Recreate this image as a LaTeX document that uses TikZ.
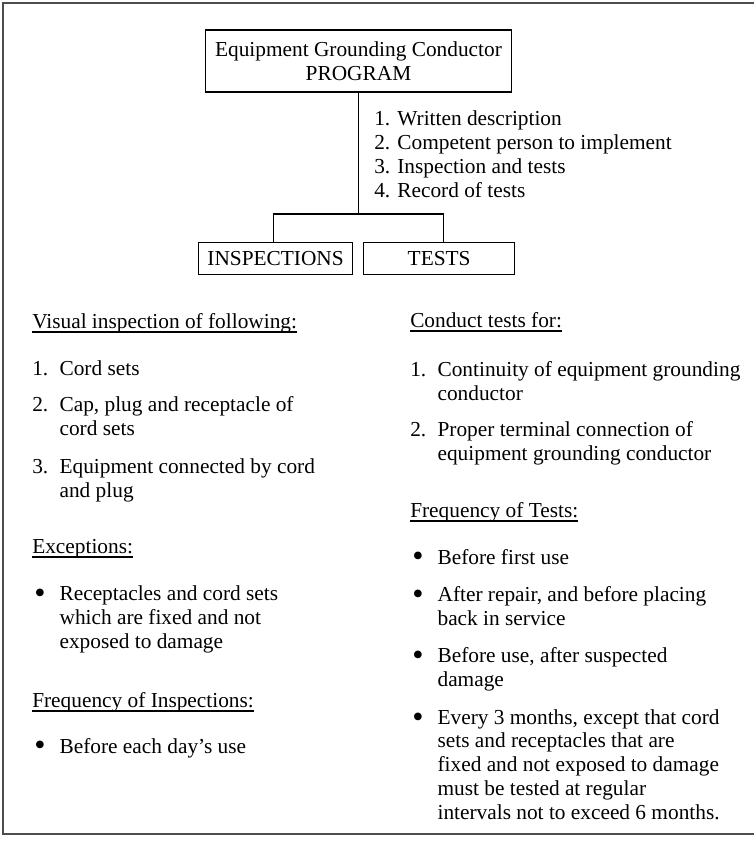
\documentclass[tikz,border=0pt]{standalone}
\usepackage{fontspec}
\setmainfont{Liberation Serif}
\usepackage{tikz}
\usepackage{xcolor}
\usetikzlibrary{positioning}

\definecolor{framegray}{HTML}{4D4D4D}
\tikzset{
  box/.style={draw, line width=0.9pt, align=center, inner sep=0pt},
  txt/.style={anchor=base west, inner sep=0pt, align=left},
  wire/.style={line width=0.8pt},
  uline/.style={line width=0.8pt},
  frame/.style={draw=framegray, line width=1.3pt}
}
\newcommand{\nlab}[1]{\makebox[20.5pt][l]{#1}}
\newcommand{\blab}{\makebox[20.5pt][l]{\hspace{1.5pt}\raisebox{-2.2pt}{\scalebox{1.5}{\textbullet}}}}
\newcommand{\ind}{\hspace*{20.5pt}}

\begin{document}
\begin{tikzpicture}[x=0.75pt, y=-0.75pt, every node/.style={font=\fontsize{16}{17.8}\selectfont}]
			\useasboundingbox (0,0) rectangle (754,844);
			\draw[frame] (760,3) -- (3,3) -- (3,834) -- (760,834);

			% program and its two branches (base = last line)
			\node[box, minimum width=230pt, minimum height=46.5pt] (prog) at (358.5,61) {Equipment Grounding Conductor\\PROGRAM};
			\node[txt] (steps) at (374,197) {1. Written description\\2. Competent person to implement\\3. Inspection and tests\\4. Record of tests};
			\node[box, minimum width=115.5pt, minimum height=24pt, anchor=north west] (insp) at (198,242) {INSPECTIONS};
			\node[box, minimum width=113pt, minimum height=24pt, right=7.5pt of insp] (tests) {TESTS};
			\coordinate (fork) at (358.5,214);
			\draw[wire] (prog.south) -- (fork);
			\draw[wire] ([xshift=-1.5pt]insp.north) |- (fork) -| ([xshift=3.4pt]tests.north);

			% inspections column
			\node[txt] (vis) at (32,328) {Visual inspection of following:};
			\node[txt] (vis1) at (32,375) {\nlab{1.}Cord sets};
			\node[txt] (vis2) at (32,435) {\nlab{2.}Cap, plug and receptacle of\\\ind cord sets};
			\node[txt] (vis3) at (32,497) {\nlab{3.}Equipment connected by cord\\\ind and plug};
			\node[txt] (exc) at (32,553) {Exceptions:};
			\node[txt] (exc1) at (32,648) {\blab Receptacles and cord sets\\\ind which are fixed and not\\\ind exposed to damage};
			\node[txt] (finsp) at (32,707) {Frequency of Inspections:};
			\node[txt] (finsp1) at (32,753) {\blab Before each day’s use};

			% tests column
			\node[txt] (cond) at (410,327) {Conduct tests for:};
			\node[txt] (cond1) at (410,400) {\nlab{1.}Continuity of equipment grounding\\\ind conductor};
			\node[txt] (cond2) at (410,460) {\nlab{2.}Proper terminal connection of\\\ind equipment grounding conductor};
			\node[txt] (ftest) at (410,517) {Frequency of Tests:};
			\node[txt] (ftest1) at (410,564) {\blab Before first use};
			\node[txt] (ftest2) at (410,625) {\blab After repair, and before placing\\\ind back in service};
			\node[txt] (ftest3) at (410,686) {\blab Before use, after suspected\\\ind damage};
			\node[txt] (ftest4) at (410,819) {\blab Every 3 months, except that cord\\\ind sets and receptacles that are\\\ind fixed and not exposed to damage\\\ind must be tested at regular\\\ind intervals not to exceed 6 months.};

			% underlined headings
			\foreach \hd in {vis, exc, finsp, cond, ftest}
				\draw[uline] ([yshift=-3pt]\hd.base west) -- ([yshift=-3pt]\hd.base east);

		\end{tikzpicture}
\end{document}
